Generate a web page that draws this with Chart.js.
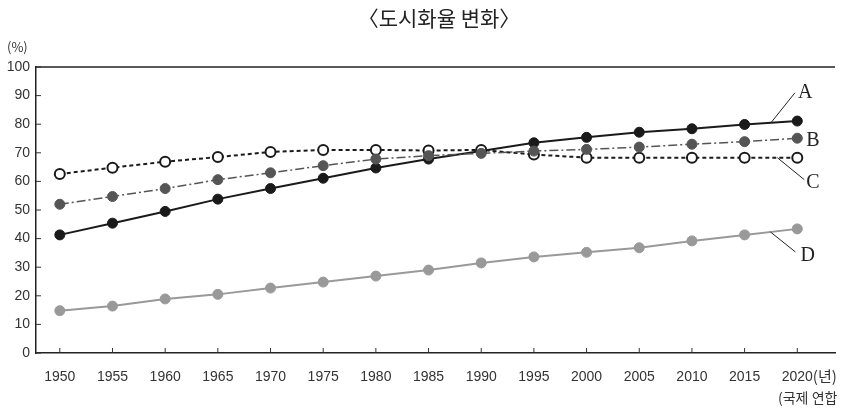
<!DOCTYPE html>
<html>
<head>
<meta charset="utf-8">
<script src="https://cdn.jsdelivr.net/npm/chart.js@4/dist/chart.umd.min.js"></script>
<style>
  html, body { margin: 0; padding: 0; background: #fff; }
  #wrap { width: 842px; height: 411px; }
</style>
</head>
<body>
<div id="wrap"><canvas id="myChart"></canvas></div>
<script>
// 도시화율 변화 (%)
var years = [1950, 1955, 1960, 1965, 1970, 1975, 1980, 1985, 1990, 1995, 2000, 2005, 2010, 2015, 2020];
var seriesA = [41.3, 45.4, 49.5, 53.8, 57.5, 61.1, 64.7, 67.8, 70.6, 73.5, 75.4, 77.2, 78.4, 79.9, 81.1];
var seriesB = [52.0, 54.7, 57.5, 60.6, 63.0, 65.5, 67.8, 69.0, 69.8, 70.6, 71.2, 72.0, 73.0, 73.9, 75.1];
var seriesC = [62.6, 64.8, 66.9, 68.5, 70.3, 71.0, 71.0, 70.8, 71.0, 69.4, 68.3, 68.3, 68.3, 68.3, 68.3];
var seriesD = [14.8, 16.4, 18.9, 20.5, 22.7, 24.8, 26.9, 29.0, 31.5, 33.6, 35.2, 36.8, 39.2, 41.3, 43.4];
var yTicks = [0, 10, 20, 30, 40, 50, 60, 70, 80, 90, 100];

var sans = '"Noto Sans CJK KR", "Liberation Sans", sans-serif';
var digits = '"Liberation Sans", sans-serif';

function pts(arr) {
  return arr.map(function (v, i) { return {x: years[i], y: v}; });
}

// 2015~2020 구간 위의 한 점에서 시작하는 지시선 + 글자
var seriesLabels = [
  {text: 'A', data: seriesA, t: 0.5,  dx: 24, dy: -30, tx: 3,  ty: 0},
  {text: 'B', data: seriesB, t: null, dx: 0,  dy: 0,   tx: 9,  ty: 3},
  {text: 'C', data: seriesC, t: 0.62, dx: 27, dy: 22,  tx: 2,  ty: 3},
  {text: 'D', data: seriesD, t: 0.49, dx: 25, dy: 20,  tx: 5,  ty: 4}
];

var extras = {
  id: 'extras',
  afterDraw: function (chart) {
    var ctx = chart.ctx;
    var area = chart.chartArea;
    var xs = chart.scales.x, ys = chart.scales.y;
    ctx.save();

    // 위쪽 테두리
    ctx.strokeStyle = '#222';
    ctx.lineWidth = 1.5;
    ctx.beginPath();
    ctx.moveTo(area.left, area.top);
    ctx.lineTo(area.right, area.top);
    ctx.stroke();

    // 안쪽 눈금
    ctx.lineWidth = 1;
    ctx.strokeStyle = '#333';
    ctx.beginPath();
    yTicks.forEach(function (v) {
      var y = ys.getPixelForValue(v);
      ctx.moveTo(area.left, y);
      ctx.lineTo(area.left + 5, y);
    });
    years.forEach(function (v) {
      var x = xs.getPixelForValue(v);
      ctx.moveTo(x, area.bottom);
      ctx.lineTo(x, area.bottom - 5);
    });
    ctx.stroke();

    // 제목
    ctx.fillStyle = '#222';
    ctx.font = '21px ' + sans;
    ctx.textAlign = 'center';
    ctx.textBaseline = 'middle';
    ctx.fillText('〈도시화율 변화〉', 439, 18);

    // 단위, 출처
    ctx.fillStyle = '#333';
    ctx.font = '13px ' + sans;
    ctx.textAlign = 'left';
    ctx.fillText('(%)', 7, 47);
    ctx.font = '14px ' + sans;
    ctx.fillText('(국제 연합', 778, 398);

    // 2020 옆의 (년)
    ctx.font = '14px ' + digits;
    var x20 = xs.getPixelForValue(2020);
    var w20 = ctx.measureText('2020').width;
    ctx.font = '15px ' + sans;
    ctx.fillText('(년)', x20 + w20 / 2, 376);

    // 계열 이름과 지시선
    ctx.strokeStyle = '#222';
    ctx.lineWidth = 1;
    ctx.fillStyle = '#222';
    ctx.font = '20px "Liberation Serif", serif';
    seriesLabels.forEach(function (s) {
      var n = s.data.length;
      var sx, sy, ex, ey;
      if (s.t === null) {
        ex = xs.getPixelForValue(years[n - 1]);
        ey = ys.getPixelForValue(s.data[n - 1]);
      } else {
        var yv = s.data[n - 2] + (s.data[n - 1] - s.data[n - 2]) * s.t;
        var xv = years[n - 2] + (years[n - 1] - years[n - 2]) * s.t;
        sx = xs.getPixelForValue(xv);
        sy = ys.getPixelForValue(yv);
        ex = sx + s.dx;
        ey = sy + s.dy;
        ctx.beginPath();
        ctx.moveTo(sx, sy);
        ctx.lineTo(ex, ey);
        ctx.stroke();
      }
      ctx.textAlign = 'left';
      ctx.textBaseline = 'middle';
      ctx.fillText(s.text, ex + s.tx, ey + s.ty);
    });

    ctx.restore();
  }
};

new Chart('myChart', {
  type: 'line',
  data: {
    datasets: [
      {
        label: 'B', data: pts(seriesB), order: 1,
        borderColor: '#555', borderWidth: 1.5, borderDash: [9, 3, 2, 3],
        pointRadius: 5, pointBackgroundColor: '#555', pointBorderColor: '#555', pointBorderWidth: 1
      },
      {
        label: 'C', data: pts(seriesC), order: 2,
        borderColor: '#1a1a1a', borderWidth: 2, borderDash: [4, 3],
        pointRadius: 5, pointBackgroundColor: '#fff', pointBorderColor: '#1a1a1a', pointBorderWidth: 2
      },
      {
        label: 'A', data: pts(seriesA), order: 3,
        borderColor: '#1a1a1a', borderWidth: 2,
        pointRadius: 5, pointBackgroundColor: '#1a1a1a', pointBorderColor: '#1a1a1a', pointBorderWidth: 1
      },
      {
        label: 'D', data: pts(seriesD), order: 4,
        borderColor: '#999', borderWidth: 2,
        pointRadius: 5, pointBackgroundColor: '#999', pointBorderColor: '#999', pointBorderWidth: 1
      }
    ]
  },
  options: {
    responsive: true,
    maintainAspectRatio: false,
    animation: false,
    layout: {padding: {top: 67, right: 0, left: 0, bottom: 0}},
    plugins: {
      legend: {display: false},
      title: {display: false},
      tooltip: {enabled: false}
    },
    scales: {
      x: {
        type: 'linear',
        min: 1947.74,
        max: 2023.58,
        afterBuildTicks: function (scale) {
          scale.ticks = years.map(function (v) { return {value: v}; });
        },
        afterFit: function (scale) { scale.height = 58; },
        grid: {display: false, drawTicks: false},
        border: {display: true, color: '#222', width: 1.5},
        ticks: {
          padding: 16,
          color: '#333',
          font: {family: digits, size: 14},
          maxRotation: 0,
          autoSkip: false,
          callback: function (v) { return String(v); }
        }
      },
      y: {
        min: 0,
        max: 100,
        afterBuildTicks: function (scale) {
          scale.ticks = yTicks.map(function (v) { return {value: v}; });
        },
        afterFit: function (scale) { scale.width = 36; },
        grid: {display: false, drawTicks: false},
        border: {display: true, color: '#222', width: 1.5},
        ticks: {
          padding: 6,
          color: '#333',
          font: {family: digits, size: 14}
        }
      }
    }
  },
  plugins: [extras]
});
</script>
</body>
</html>
